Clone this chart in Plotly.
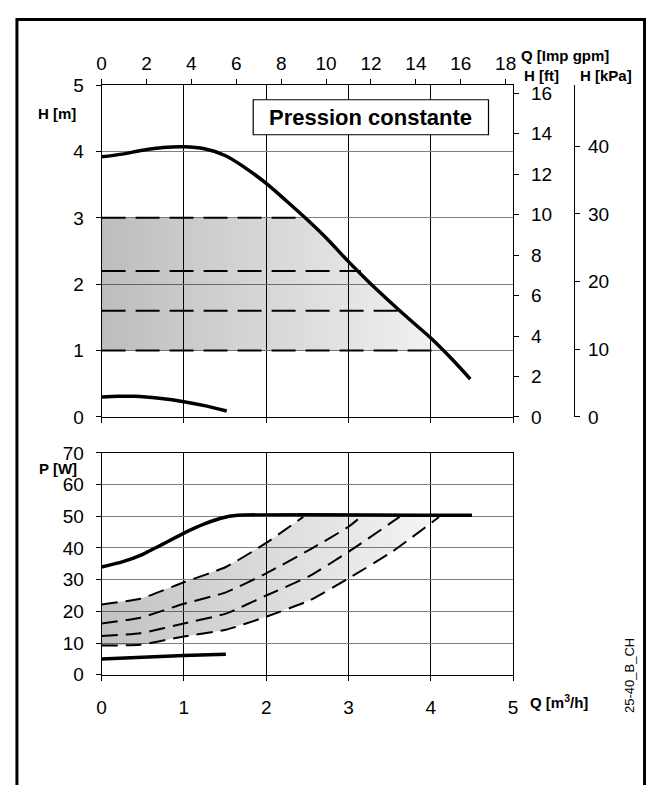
import plotly.graph_objects as go

# ---------------- data ----------------
# top chart: head curves, Q in m3/h, H in m
q_hmax = [0, 0.25, 0.5, 0.75, 1.0, 1.25, 1.5, 1.75, 2.0, 2.25, 2.5, 2.75, 3.0, 3.25, 3.5, 3.75, 4.0, 4.25, 4.48]
h_max = [3.92, 3.96, 4.02, 4.06, 4.07, 4.04, 3.94, 3.75, 3.52, 3.25, 2.97, 2.67, 2.34, 2.03, 1.74, 1.46, 1.19, 0.88, 0.57]
q_hmin = [0, 0.2, 0.4, 0.7, 1.0, 1.25, 1.52]
h_min = [0.30, 0.31, 0.31, 0.28, 0.23, 0.17, 0.09]
h_set = [1.0, 1.6, 2.2, 3.0]          # constant-pressure set points
q_set_end = [4.13, 3.65, 3.15, 2.48]  # where each set-point line ends

# bottom chart: power curves, P in W
q_pmax = [0, 0.25, 0.5, 0.75, 1.0, 1.25, 1.45, 1.65, 4.5]
p_max = [34.0, 35.6, 38.0, 41.3, 44.7, 47.6, 49.4, 50.3, 50.3]
q_pmin = [0, 0.5, 1.0, 1.51]
p_min = [5.0, 5.6, 6.1, 6.5]
q_p10 = [0, 0.47, 1.0, 1.51, 2.0, 2.53, 3.0, 3.54, 4.1]
p_p10 = [9.2, 9.5, 12.1, 14.2, 18.3, 23.5, 30.4, 39.0, 49.8]
q_p16 = [0, 0.47, 1.0, 1.51, 2.0, 2.53, 3.0, 3.62]
p_p16 = [12.2, 13.1, 16.2, 19.3, 25.0, 31.2, 38.8, 49.8]
q_p22 = [0, 0.47, 1.0, 1.51, 2.0, 2.53, 3.0, 3.15]
p_p22 = [16.2, 18.0, 22.4, 26.0, 32.0, 39.5, 46.7, 49.8]
q_p30 = [0, 0.47, 1.0, 1.51, 2.0, 2.45]
p_p30 = [22.2, 24.0, 29.2, 34.0, 41.6, 49.8]

q_ticks = [0, 1, 2, 3, 4, 5]
h_ticks = [0, 1, 2, 3, 4, 5]
gpm_ticks = list(range(0, 19, 2))
ft_ticks = list(range(0, 17, 2))
kpa_ticks = [0, 10, 20, 30, 40]
p_ticks = list(range(0, 71, 10))

M3H_TO_GPM = 3.6662
M_TO_FT = 1 / 0.3048
M_TO_KPA = 9.80665

# ---------------- layout geometry ----------------
# page is 659x793; the body keeps its default 8px margin, so the figure is 643x777
OFF = 8
W, H = 659 - 2 * OFF, 793 - 2 * OFF
def px(x):
    return (x - OFF) / W
def py(y):
    return 1 - (y - OFF) / H

X0, X1 = 98, 516
TOP_Y0, TOP_Y1 = 77, 418
BOT_Y0, BOT_Y1 = 455, 683

FONT = "Liberation Sans, Arial, sans-serif"
TICKF = dict(family=FONT, size=19, color="black")

fig = go.Figure()

# ---- top chart ----
q_lo, q_hi = q_set_end[-1], q_set_end[0]
inner = [(q, h) for q, h in zip(q_hmax, h_max) if q_lo < q < q_hi]
top_fill_x = [0, 0, q_lo] + [q for q, _ in inner] + [q_hi]
top_fill_y = [h_set[0], h_set[-1], h_set[-1]] + [h for _, h in inner] + [h_set[0]]
fig.add_trace(go.Scatter(
    x=top_fill_x, y=top_fill_y, mode="lines", fill="toself",
    line=dict(width=0), xaxis="x", yaxis="y",
    fillgradient=dict(type="horizontal",
                      colorscale=[[0, "rgba(0,0,0,0.26)"], [1, "rgba(0,0,0,0.05)"]]),
    hoverinfo="skip", showlegend=False))

for hs, qe in zip(h_set, q_set_end):
    fig.add_trace(go.Scatter(x=[0, qe], y=[hs, hs], mode="lines",
                             line=dict(color="black", width=2, dash="24px,10px"),
                             xaxis="x", yaxis="y", showlegend=False))

fig.add_trace(go.Scatter(x=q_hmax, y=h_max, mode="lines",
                         line=dict(color="black", width=3.5, shape="spline", smoothing=1.0),
                         xaxis="x", yaxis="y", showlegend=False))
fig.add_trace(go.Scatter(x=q_hmin, y=h_min, mode="lines",
                         line=dict(color="black", width=3.5, shape="spline", smoothing=0.8),
                         xaxis="x", yaxis="y", showlegend=False))

# invisible traces to activate secondary axes
fig.add_trace(go.Scatter(x=[0], y=[0], mode="markers", marker=dict(opacity=0), xaxis="x2", yaxis="y", showlegend=False, hoverinfo="skip"))
fig.add_trace(go.Scatter(x=[0], y=[0], mode="markers", marker=dict(opacity=0), xaxis="x", yaxis="y2", showlegend=False, hoverinfo="skip"))
fig.add_trace(go.Scatter(x=[0], y=[0], mode="markers", marker=dict(opacity=0), xaxis="x", yaxis="y3", showlegend=False, hoverinfo="skip"))

# ---- bottom chart ----
bot_fill_x = q_p30 + q_p10[::-1]
bot_fill_y = p_p30 + p_p10[::-1]
fig.add_trace(go.Scatter(
    x=bot_fill_x, y=bot_fill_y, mode="lines", fill="toself",
    line=dict(width=0), xaxis="x3", yaxis="y4",
    fillgradient=dict(type="horizontal",
                      colorscale=[[0, "rgba(0,0,0,0.24)"], [1, "rgba(0,0,0,0.04)"]]),
    hoverinfo="skip", showlegend=False))

for qq, pp in [(q_p10, p_p10), (q_p16, p_p16), (q_p22, p_p22), (q_p30, p_p30)]:
    fig.add_trace(go.Scatter(x=qq, y=pp, mode="lines",
                             line=dict(color="black", width=2, dash="16px,8px", shape="spline", smoothing=0.5),
                             xaxis="x3", yaxis="y4", showlegend=False))
fig.add_trace(go.Scatter(x=q_pmax, y=p_max, mode="lines",
                         line=dict(color="black", width=3.5, shape="spline", smoothing=0.5),
                         xaxis="x3", yaxis="y4", showlegend=False))
fig.add_trace(go.Scatter(x=q_pmin, y=p_min, mode="lines", line=dict(color="black", width=3.5),
                         xaxis="x3", yaxis="y4", showlegend=False))

dom_x = [px(X0), px(X1)]
common = dict(showline=True, linecolor="black", linewidth=1, ticks="outside", ticklen=5,
              tickcolor="black", tickwidth=1, tickfont=TICKF, zeroline=False)

fig.update_layout(
    width=W, height=H, margin=dict(l=0, r=0, t=0, b=0),
    paper_bgcolor="white", plot_bgcolor="white", showlegend=False,
    font=dict(family=FONT, color="black"),
    xaxis=dict(domain=dom_x, range=[0, 5], anchor="y", tickvals=q_ticks, showticklabels=False,
               showgrid=True, gridcolor="black", gridwidth=1, **common),
    xaxis2=dict(overlaying="x", side="top", anchor="y", range=[0, 5 * M3H_TO_GPM], tickvals=gpm_ticks,
                showgrid=False, ticklabelstandoff=2, **common),
    yaxis=dict(domain=[py(TOP_Y1), py(TOP_Y0)], range=[0, 5], anchor="x", tickvals=h_ticks,
               showgrid=True, gridcolor="#808080", gridwidth=1, ticklabelstandoff=8, **common),
    yaxis2=dict(overlaying="y", side="right", anchor="x", range=[0, 5 * M_TO_FT], tickvals=ft_ticks,
                showgrid=False, ticklabelstandoff=8, **common),
    yaxis3=dict(overlaying="y", side="right", anchor="free", position=px(578), range=[0, 5 * M_TO_KPA],
                tickvals=kpa_ticks, showgrid=False, ticklabelstandoff=4, **common),
    xaxis3=dict(domain=dom_x, range=[0, 5], anchor="y4", tickvals=q_ticks, mirror=True,
                showgrid=True, gridcolor="black", gridwidth=1, ticklabelstandoff=10, **common),
    yaxis4=dict(domain=[py(BOT_Y1), py(BOT_Y0)], range=[0, 70], anchor="x3", tickvals=p_ticks, mirror=True,
                showgrid=True, gridcolor="#808080", gridwidth=1, ticklabelstandoff=8, **common),
)

# outer frame and title box
fig.add_shape(type="rect", xref="paper", yref="paper", x0=px(12), x1=(W - 1.5) / W, y0=-0.05, y1=1 - 1.5 / H,
              line=dict(color="black", width=3), layer="above")
fig.add_shape(type="rect", xref="paper", yref="paper", x0=px(252), x1=px(491), y0=py(128), y1=py(92),
              line=dict(color="black", width=1.2), fillcolor="white", layer="above")

def label(text, x, y, size=15, bold=True, xanchor="left", angle=0):
    fig.add_annotation(text=f"<b>{text}</b>" if bold else text, xref="paper", yref="paper",
                       x=px(x), y=py(y), xanchor=xanchor, yanchor="middle", showarrow=False,
                       textangle=angle, font=dict(family=FONT, size=size, color="black"))

label("Pression constante", 371.5, 110, size=22, xanchor="center")
label("H [m]", 31, 106)
label("P [W]", 32, 471)
label("Q [Imp gpm]", 522, 47)
label("H [ft]", 525, 67)
label("H [kPa]", 582, 67)
label("Q [m<sup>3</sup>/h]", 531, 710)
label("25-40_B_CH", 634, 684, size=13, bold=False, xanchor="center", angle=-90)

fig.write_html("out.html", config={"displayModeBar": False})
